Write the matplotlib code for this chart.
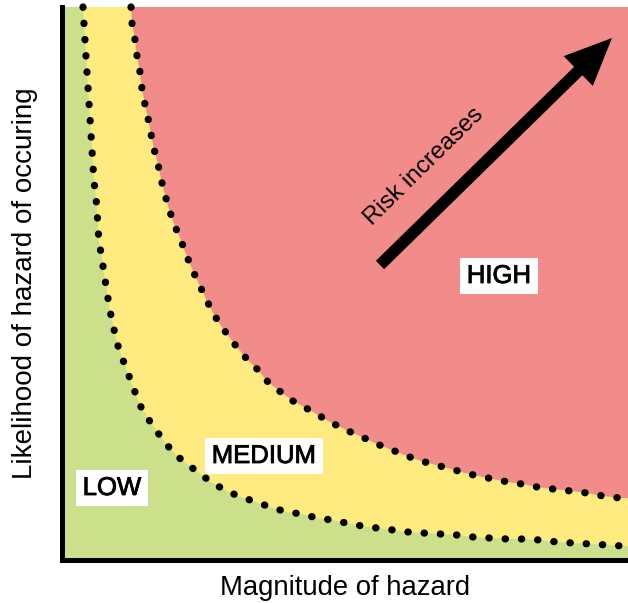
import matplotlib.pyplot as plt
import matplotlib.patches as mpatches
import matplotlib.patheffects as pe

# 区域颜色
red = '#F28C8A'
yellow = '#FFEB80'
green = '#CCDF8A'

# 坐标范围 (读取自图像)
x_max = 566
y_max = 553

# 低/中边界 (点线)
low_x = [21, 22, 23, 24, 25, 26, 27, 28, 29, 30, 31, 32, 34, 35, 36, 37, 40, 42, 45, 47,
         51, 55, 61, 67, 73, 79, 87, 96, 105, 115, 125, 137, 149, 161, 176, 194, 211, 225,
         240, 255, 270, 284, 300, 315, 331, 346, 361, 378, 395, 411, 428, 445, 461, 478,
         495, 511, 529, 545, 561]
low_y = [553, 536, 520, 504, 488, 473, 457, 442, 426, 410, 394, 378, 363, 348, 334, 318, 302, 286, 269, 254,
         235, 217, 200, 184, 168, 153, 140, 127, 115, 104, 96, 87, 78, 71, 64, 58, 52, 48,
         46, 42, 40, 37, 34, 32, 30, 28, 27, 26, 25, 23, 22, 21, 21, 20,
         18, 17, 16, 15, 14]

# 中/高边界
high_x = [69, 70, 73, 75, 78, 80, 83, 86, 89, 92, 96, 99, 103, 107, 112, 118, 124, 130, 137, 144,
          150, 157, 165, 174, 184, 195, 206, 220, 231, 244, 256, 270, 284, 300, 315, 330, 345, 359,
          374, 389, 403, 416, 431, 446, 460, 475, 491, 509, 525, 541, 558]
high_y = [553, 537, 520, 504, 488, 471, 455, 442, 426, 411, 396, 381, 365, 351, 336, 322, 306, 291, 276, 261,
          249, 237, 226, 214, 202, 191, 178, 167, 159, 152, 145, 137, 130, 123, 116, 110, 104, 99,
          95, 91, 87, 84, 81, 78, 76, 73, 71, 69, 67, 64, 62]

labels = ['LOW', 'MEDIUM', 'HIGH']
label_x = [50, 202, 437]
label_y = [72, 104, 284]

arrow_start = (318, 295)
arrow_end = (550, 522)

plt.rcParams['font.family'] = ['Liberation Sans', 'DejaVu Sans']

fig = plt.figure(figsize=(6.28, 6.03), dpi=100)
ax = fig.add_axes([62 / 628, 43 / 603, 566 / 628, 553 / 603])
ax.set_xlim(0, x_max)
ax.set_ylim(0, y_max)
ax.set_facecolor(red)

# 黄色区域 (上边界以下)
ax.fill([0, 0] + high_x + [x_max, x_max], [0, y_max] + high_y + [high_y[-1], 0],
        color=yellow, lw=0, zorder=1)
# 绿色区域 (下边界以下)
ax.fill([0, 0] + low_x + [x_max, x_max], [0, y_max] + low_y + [low_y[-1], 0],
        color=green, lw=0, zorder=2)

for xs, ys in [(low_x, low_y), (high_x, high_y)]:
    ax.plot(xs, ys, color='black', lw=5.2, linestyle=(0, (0.05, 2.2)),
            dash_capstyle='round', solid_capstyle='round', clip_on=False, zorder=3)

# 箭头
arrow = mpatches.FancyArrowPatch(arrow_start, arrow_end,
                                 arrowstyle='simple,head_length=3.4,head_width=3.0,tail_width=0.85',
                                 mutation_scale=10, lw=0, color='black',
                                 shrinkA=0, shrinkB=0, zorder=4)
ax.add_patch(arrow)
ax.text(362, 393, 'Risk increases', rotation=44.5, ha='center', va='center',
        fontsize=17.5, color='black', rotation_mode='anchor', zorder=5)

for lab, lx, ly in zip(labels, label_x, label_y):
    ax.text(lx, ly, lab, ha='center', va='center', fontsize=18.5, zorder=6,
            path_effects=[pe.withStroke(linewidth=0.6, foreground='black')],
            bbox=dict(boxstyle='square,pad=0.25', fc='white', ec='none'))

for side in ['top', 'right']:
    ax.spines[side].set_visible(False)
for side in ['left', 'bottom']:
    ax.spines[side].set_linewidth(3.6)
    ax.spines[side].set_zorder(7)
ax.set_xticks([])
ax.set_yticks([])

ax.set_xlabel('Magnitude of hazard', fontsize=19.8, labelpad=11)
ax.set_ylabel('Likelihood of hazard of occuring', fontsize=20, labelpad=17)

fig.savefig('out.png', dpi=100)
